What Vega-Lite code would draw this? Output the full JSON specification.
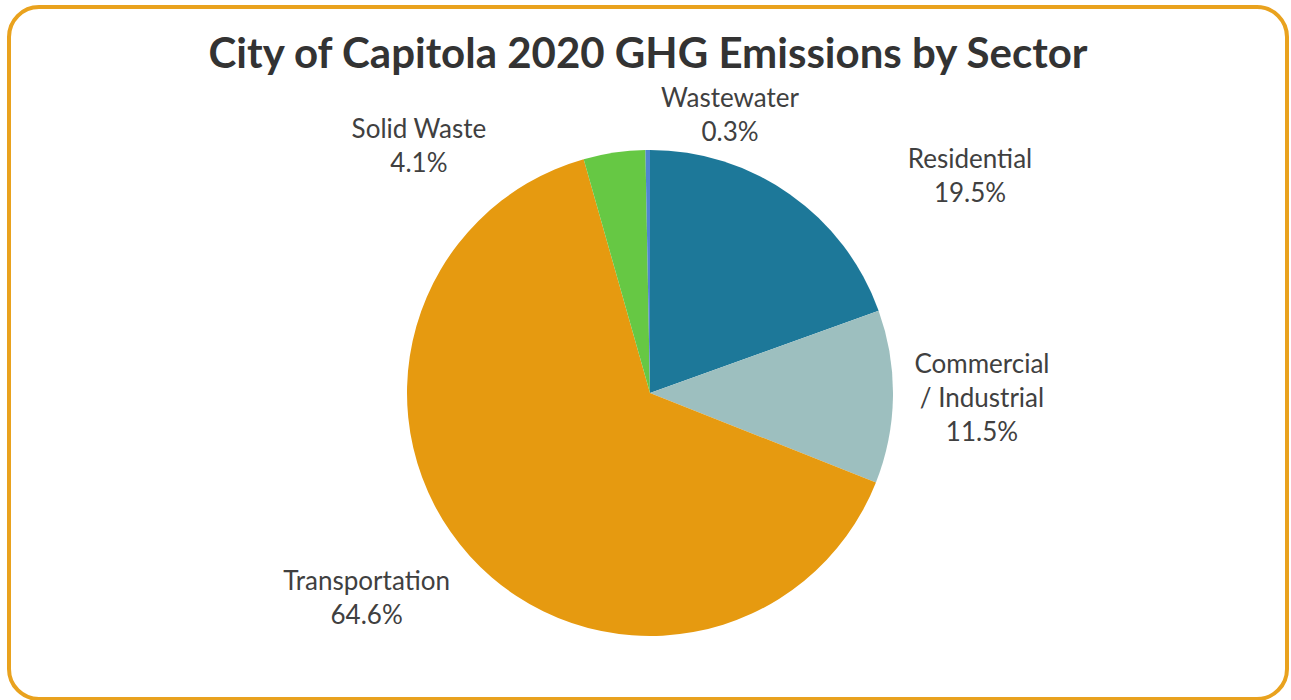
{
  "$schema": "https://vega.github.io/schema/vega-lite/v6.json",
  "autosize": "none",
  "width": 1278,
  "height": 692,
  "padding": {"left": 9, "top": 7, "right": 4, "bottom": 1},
  "background": "white",
  "config": {"view": {"stroke": null}},
  "title": {
    "text": "City of Capitola 2020 GHG Emissions by Sector",
    "font": "Lato",
    "fontSize": 42,
    "fontWeight": "bold",
    "color": "#333333",
    "anchor": "middle",
    "offset": -72
  },
  "data": {
    "values": [
      {"sector": "Residential", "value": 19.5, "idx": 1, "label": "Residential\n19.5%"},
      {"sector": "Commercial / Industrial", "value": 11.5, "idx": 2, "label": "Commercial\n/ Industrial\n11.5%"},
      {"sector": "Transportation", "value": 64.6, "idx": 3, "label": "Transportation\n64.6%"},
      {"sector": "Solid Waste", "value": 4.1, "idx": 4, "label": "Solid Waste\n4.1%"},
      {"sector": "Wastewater", "value": 0.3, "idx": 5, "label": "Wastewater\n0.3%"}
    ]
  },
  "layer": [
    {
      "data": {"values": [{"frame": "border"}]},
      "mark": {"type": "rect", "fill": null, "stroke": "#E9A21E", "strokeWidth": 4, "cornerRadius": 30},
      "encoding": {}
    },
    {
      "mark": {"type": "arc", "outerRadius": 243, "xOffset": 2, "yOffset": 40},
      "encoding": {
        "theta": {"field": "value", "type": "quantitative", "stack": true},
        "order": {"field": "idx", "type": "quantitative"},
        "color": {
          "field": "sector",
          "type": "nominal",
          "scale": {
            "domain": ["Residential", "Commercial / Industrial", "Transportation", "Solid Waste", "Wastewater"],
            "range": ["#1D7899", "#9DBFBF", "#E69A10", "#66C844", "#4F86D0"]
          },
          "legend": null
        }
      }
    },
    {
      "mark": {"type": "text", "radius": 320, "xOffset": 2, "yOffset": 40, "dx": 136, "dy": 29, "font": "Lato", "fontSize": 26, "color": "#404040", "align": "center", "baseline": "middle", "lineHeight": 34, "lineBreak": "\n"},
      "encoding": {"theta": {"field": "value", "type": "quantitative", "stack": true}, "order": {"field": "idx", "type": "quantitative"}, "detail": {"field": "sector"}, "text": {"condition": {"test": "datum.sector === 'Residential'", "field": "label"}, "value": ""}}
    },
    {
      "mark": {"type": "text", "radius": 320, "xOffset": 2, "yOffset": 40, "dx": 12, "dy": -33, "font": "Lato", "fontSize": 26, "color": "#404040", "align": "center", "baseline": "middle", "lineHeight": 34, "lineBreak": "\n"},
      "encoding": {"theta": {"field": "value", "type": "quantitative", "stack": true}, "order": {"field": "idx", "type": "quantitative"}, "detail": {"field": "sector"}, "text": {"condition": {"test": "datum.sector === 'Commercial / Industrial'", "field": "label"}, "value": ""}}
    },
    {
      "mark": {"type": "text", "radius": 320, "xOffset": 2, "yOffset": 40, "dx": -46, "dy": -26, "font": "Lato", "fontSize": 26, "color": "#404040", "align": "center", "baseline": "middle", "lineHeight": 34, "lineBreak": "\n"},
      "encoding": {"theta": {"field": "value", "type": "quantitative", "stack": true}, "order": {"field": "idx", "type": "quantitative"}, "detail": {"field": "sector"}, "text": {"condition": {"test": "datum.sector === 'Transportation'", "field": "label"}, "value": ""}}
    },
    {
      "mark": {"type": "text", "radius": 320, "xOffset": 2, "yOffset": 40, "dx": -184, "dy": 54, "font": "Lato", "fontSize": 26, "color": "#404040", "align": "center", "baseline": "middle", "lineHeight": 34, "lineBreak": "\n"},
      "encoding": {"theta": {"field": "value", "type": "quantitative", "stack": true}, "order": {"field": "idx", "type": "quantitative"}, "detail": {"field": "sector"}, "text": {"condition": {"test": "datum.sector === 'Solid Waste'", "field": "label"}, "value": ""}}
    },
    {
      "mark": {"type": "text", "radius": 320, "xOffset": 2, "yOffset": 40, "dx": 83, "dy": 26, "font": "Lato", "fontSize": 26, "color": "#404040", "align": "center", "baseline": "middle", "lineHeight": 34, "lineBreak": "\n"},
      "encoding": {"theta": {"field": "value", "type": "quantitative", "stack": true}, "order": {"field": "idx", "type": "quantitative"}, "detail": {"field": "sector"}, "text": {"condition": {"test": "datum.sector === 'Wastewater'", "field": "label"}, "value": ""}}
    }
  ]
}
